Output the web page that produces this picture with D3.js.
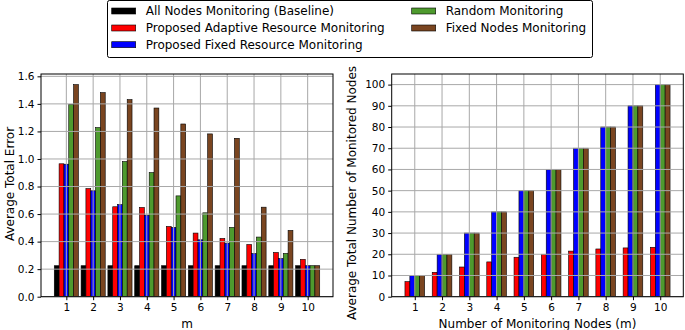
<!DOCTYPE html>
<html lang="en">
<head>
<meta charset="UTF-8">
<title>Monitoring comparison</title>
<script src="https://d3js.org/d3.v7.min.js"></script>
<style>
body { margin: 0; background: #fff; }
svg text { font-family: "DejaVu Sans", sans-serif; fill: #000; }
</style>
</head>
<body>
<svg id="chart" width="685" height="330"></svg>
<script>
// data
var categories = [1, 2, 3, 4, 5, 6, 7, 8, 9, 10]

// left panel: average total error
var errBaseline = [0.225, 0.225, 0.225, 0.225, 0.225, 0.225, 0.225, 0.225, 0.225, 0.225]
var errAdaptive = [0.965, 0.785, 0.653, 0.648, 0.510, 0.462, 0.423, 0.379, 0.321, 0.271]
var errFixedRes = [0.962, 0.769, 0.669, 0.592, 0.503, 0.413, 0.389, 0.314, 0.278, 0.225]
var errRandom   = [1.395, 1.228, 0.981, 0.901, 0.732, 0.609, 0.503, 0.433, 0.314, 0.225]
var errFixedNodes = [1.540, 1.482, 1.431, 1.370, 1.254, 1.182, 1.150, 0.650, 0.481, 0.225]
var errTicks = [0, 0.2, 0.4, 0.6, 0.8, 1.0, 1.2, 1.4, 1.6]

// right panel: average total number of monitored nodes
var nodAdaptive = [7.1, 11.5, 14.0, 16.4, 18.6, 20.0, 21.5, 22.5, 23.0, 23.3]
var nodFixedRes = [10, 20, 30, 40, 50, 60, 70, 80, 90, 100]
var nodRandom   = [10, 20, 30, 40, 50, 60, 70, 80, 90, 100]
var nodFixedNodes = [10, 20, 30, 40, 50, 60, 70, 80, 90, 100]
var nodTicks = [0, 10, 20, 30, 40, 50, 60, 70, 80, 90, 100]

var seriesNames = ["All Nodes Monitoring (Baseline)", "Proposed Adaptive Resource Monitoring",
  "Proposed Fixed Resource Monitoring", "Random Monitoring", "Fixed Nodes Monitoring"]
var colors = ["#000000", "#ff0000", "#0000ff", "#4e9a2e", "#7a4520"]

var svg = d3.select('#chart')
var barW = 0.18

// draws one bar panel, series = list of {values, color}
function panel(opt) {
  var n = opt.series.length
  var lo = 1 - n * barW / 2, hi = 10 + n * barW / 2
  var pad = (hi - lo) * 0.05
  var x = d3.scaleLinear().domain([lo - pad, hi + pad]).range([opt.left, opt.right])
  var ymax = d3.max(opt.series, function(s) { return d3.max(s.values) }) * 1.05
  var y = d3.scaleLinear().domain([0, ymax]).range([opt.bottom, opt.top])

  var g = svg.append('g')

  opt.series.forEach(function(s, k) {
    var off = (k - (n - 1) / 2) * barW
    g.selectAll(null)
      .data(categories)
      .enter()
      .append('rect')
      .attr('x', function(d) { return x(d + off - barW / 2) })
      .attr('width', function(d) { return x(d + off + barW / 2) - x(d + off - barW / 2) })
      .attr('y', function(d, i) { return y(s.values[i]) })
      .attr('height', function(d, i) { return y(0) - y(s.values[i]) })
      .attr('fill', s.color)
      .attr('stroke', '#000')
      .attr('stroke-width', 0.6)
  })

  // grid on top of bars
  g.selectAll(null).data(opt.ticks).enter().append('line')
    .attr('x1', opt.left).attr('x2', opt.right)
    .attr('y1', function(d) { return y(d) }).attr('y2', function(d) { return y(d) })
    .attr('stroke', '#a8a8a8').attr('stroke-width', 1)
  g.selectAll(null).data(categories).enter().append('line')
    .attr('x1', function(d) { return x(d) }).attr('x2', function(d) { return x(d) })
    .attr('y1', opt.top).attr('y2', opt.bottom)
    .attr('stroke', '#a8a8a8').attr('stroke-width', 1)

  var yAxis = d3.axisLeft(y).tickValues(opt.ticks).tickFormat(opt.fmt).tickSizeOuter(0).tickSize(3.5).tickPadding(3)
  var xAxis = d3.axisBottom(x).tickValues(categories).tickFormat(d3.format('d')).tickSizeOuter(0).tickSize(3.5).tickPadding(3)

  var ya = g.append('g').attr('transform', 'translate(' + opt.left + ',0)').call(yAxis)
  var xa = g.append('g').attr('transform', 'translate(0,' + opt.bottom + ')').call(xAxis)
  ;[ya, xa].forEach(function(a) {
    a.select('.domain').remove()
    a.selectAll('text').attr('font-size', 10.5).attr('font-family', 'DejaVu Sans')
    a.selectAll('line').attr('stroke', '#000')
  })

  g.append('rect')
    .attr('x', opt.left).attr('y', opt.top)
    .attr('width', opt.right - opt.left).attr('height', opt.bottom - opt.top)
    .attr('fill', 'none').attr('stroke', '#000').attr('stroke-width', 1)

  g.append('text')
    .attr('x', (opt.left + opt.right) / 2).attr('y', 328)
    .attr('text-anchor', 'middle').attr('font-size', 12)
    .text(opt.xlabel)
  g.append('text')
    .attr('transform', 'translate(' + opt.ylabelX + ',' + opt.ylabelY + ') rotate(-90)')
    .attr('text-anchor', 'middle').attr('font-size', 12)
    .text(opt.ylabel)
}

panel({
  left: 41, right: 333, top: 74, bottom: 296.7,
  series: [errBaseline, errAdaptive, errFixedRes, errRandom, errFixedNodes].map(function(v, i) {
    return {values: v, color: colors[i]}
  }),
  ticks: errTicks, fmt: d3.format('.1f'),
  xlabel: 'm', ylabel: 'Average Total Error', ylabelX: 14, ylabelY: 184
})

panel({
  left: 391.7, right: 683.3, top: 74, bottom: 296.7,
  series: [nodAdaptive, nodFixedRes, nodRandom, nodFixedNodes].map(function(v, i) {
    return {values: v, color: colors[i + 1]}
  }),
  ticks: nodTicks, fmt: d3.format('d'),
  xlabel: 'Number of Monitoring Nodes (m)', ylabel: 'Average Total Number of Monitored Nodes',
  ylabelX: 356, ylabelY: 193
})

// legend
var leg = svg.append('g')
leg.append('rect')
  .attr('x', 107.5).attr('y', 0.5).attr('width', 485).attr('height', 57)
  .attr('fill', '#fff').attr('stroke', '#000').attr('stroke-width', 1).attr('rx', 2)

var legPos = [[111.7, 11], [111.7, 28], [111.7, 44.7], [411.7, 11], [411.7, 28]]
seriesNames.forEach(function(name, i) {
  var p = legPos[i]
  leg.append('rect')
    .attr('x', p[0]).attr('y', p[1] - 3).attr('width', 24).attr('height', 6)
    .attr('fill', colors[i]).attr('stroke', '#000').attr('stroke-width', 0.6)
  leg.append('text')
    .attr('x', p[0] + 34).attr('y', p[1]).attr('dy', '0.35em')
    .attr('font-size', 12)
    .text(name)
})
</script>
</body>
</html>
